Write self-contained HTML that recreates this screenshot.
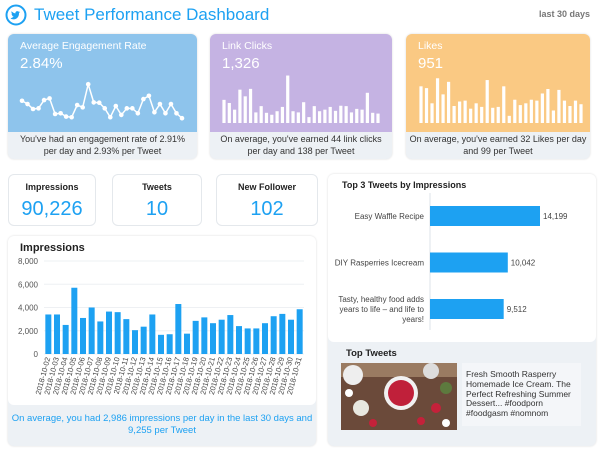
<!DOCTYPE html>
<html><head><meta charset="utf-8">
<style>
body{margin:0;width:598px;height:449px;overflow:hidden;background:#fff;font-family:"Liberation Sans",sans-serif;position:relative}
.abs{position:absolute}
.card{position:absolute;border-radius:6px;box-shadow:0 0 2px rgba(0,0,0,.15)}
.foot{position:absolute;background:#edf1f5;color:#333;font-size:9px;text-align:center;line-height:11.5px;border-radius:0 0 6px 6px}
.kpi{position:absolute;background:#fff;border:1px solid #e4e8ec;border-radius:6px;text-align:center}
.kpi .t{font-size:9px;font-weight:bold;color:#222;margin-top:7px}
.kpi .v{font-size:20px;color:#1da1f2;margin-top:6px}
.ct{color:#fff;font-size:10.5px}
</style></head><body>
<svg class="abs" style="left:5px;top:4px" width="22" height="22"><circle cx="11" cy="11" r="9.5" fill="none" stroke="#1da1f2" stroke-width="2"/><path d="M5.5 14.5c2.5 1.5 6 1 7.5-1.5 1-1.5 1-3 1-4l1.2-1-1.4.3.9-1.1-1.3.4c-1-1-2.8-.5-3 1.2v.6C8.7 9.2 7.5 8.3 6.6 7.3c-.5 1 0 2 .6 2.4l-.7-.1c0 1 .6 1.6 1.3 1.8h-.8c.3.8 1 1.2 1.7 1.2-.9.8-2 1.1-3.2 1.9z" fill="#1da1f2"/></svg>
<div class="abs" style="left:34px;top:5px;font-size:17px;color:#1da1f2">Tweet Performance Dashboard</div>
<div class="abs" style="right:8px;top:9px;font-size:9px;color:#777;font-weight:bold">last 30 days</div>

<div class="card" style="left:8px;top:34px;width:189px;height:125px;background:#edf1f5">
<div class="abs" style="left:0;top:0;width:189px;height:98px;background:#8ec4ec;border-radius:6px 6px 0 0"></div>
<div class="abs ct" style="left:12px;top:6px">Average Engagement Rate</div>
<div class="abs ct" style="left:12px;top:21px;font-size:15px">2.84%</div>
<div class="foot" style="left:0;top:100px;width:189px">You've had an engagement rate of 2.91%<br>per day and 2.93% per Tweet</div>
</div>
<svg id="spark" class="abs" style="left:0;top:0" width="598" height="160"></svg>

<div class="card" style="left:210px;top:34px;width:182px;height:125px;background:#edf1f5">
<div class="abs" style="left:0;top:0;width:182px;height:98px;background:#c5b3e3;border-radius:6px 6px 0 0"></div>
<div class="abs ct" style="left:12px;top:6px">Link Clicks</div>
<div class="abs ct" style="left:12px;top:21px;font-size:15px">1,326</div>
<div class="foot" style="left:0;top:100px;width:182px">On average, you've earned 44 link clicks<br>per day and 138 per Tweet</div>
</div>
<div class="card" style="left:406px;top:34px;width:184px;height:125px;background:#edf1f5">
<div class="abs" style="left:0;top:0;width:184px;height:98px;background:#fac983;border-radius:6px 6px 0 0"></div>
<div class="abs ct" style="left:12px;top:6px">Likes</div>
<div class="abs ct" style="left:12px;top:21px;font-size:15px">951</div>
<div class="foot" style="left:0;top:100px;width:184px;white-space:nowrap">On average, you've earned 32 Likes per day<br>and 99 per Tweet</div>
</div>
<svg id="bars" class="abs" style="left:0;top:0" width="598" height="160"></svg>

<div class="kpi" style="left:8px;top:174px;width:86px;height:50px"><div class="t">Impressions</div><div class="v">90,226</div></div>
<div class="kpi" style="left:112px;top:174px;width:88px;height:50px"><div class="t">Tweets</div><div class="v">10</div></div>
<div class="kpi" style="left:216px;top:174px;width:100px;height:50px"><div class="t">New Follower</div><div class="v">102</div></div>

<div class="card" style="left:8px;top:236px;width:308px;height:210px;background:#edf1f5">
<div class="abs" style="left:0;top:0;width:308px;height:169px;background:#fff;border-radius:6px"></div>
<div class="abs" style="left:12px;top:6px;font-size:11px;font-weight:bold;color:#222">Impressions</div>
<div class="abs" style="left:0;top:177px;width:308px;text-align:center;color:#1da1f2;font-size:9.5px;line-height:12px">On average, you had 2,986 impressions per day in the last 30 days and<br>9,255 per Tweet</div>
</div>
<svg id="imp" class="abs" style="left:0;top:0" width="330" height="449"></svg>

<div class="card" style="left:328px;top:174px;width:268px;height:272px;background:#edf1f5">
<div class="abs" style="left:0;top:0;width:268px;height:168px;background:#fff;border-radius:6px"></div>
<div class="abs" style="left:14px;top:6px;font-size:9px;font-weight:bold;color:#222">Top 3 Tweets by Impressions</div>
<div class="abs" style="left:18px;top:174px;font-size:9.5px;font-weight:bold;color:#222">Top Tweets</div>
<svg class="abs" style="left:13px;top:189px" width="116" height="67">
<rect width="116" height="67" fill="#6b4a3a"/><rect x="0" y="0" width="116" height="14" fill="#9a7b62"/>
<circle cx="12" cy="12" r="10" fill="#eee"/><circle cx="90" cy="8" r="8" fill="#ddd"/>
<circle cx="60" cy="30" r="17" fill="#f1f1f1"/><circle cx="60" cy="30" r="13" fill="#c0203a"/>
<circle cx="20" cy="45" r="8" fill="#e8e8e0"/><circle cx="32" cy="60" r="4" fill="#c4213a"/><circle cx="95" cy="45" r="5" fill="#c4213a"/><circle cx="80" cy="58" r="4" fill="#c4213a"/>
<circle cx="105" cy="25" r="6" fill="#5d7a3e"/><circle cx="8" cy="30" r="4" fill="#fff"/><circle cx="105" cy="60" r="4" fill="#fff"/>
</svg>
<div class="abs" style="left:134px;top:189px;width:119px;height:63px;background:#f4f6f9;font-size:8.5px;line-height:9.8px;color:#333;padding:7px 0 0 4px;box-sizing:border-box">Fresh Smooth Rasperry Homemade Ice Cream. The Perfect Refreshing Summer Dessert... #foodporn #foodgasm #nomnom</div>
</div>
<svg id="top3" class="abs" style="left:0;top:0" width="598" height="449"></svg>

<script>
const NS='http://www.w3.org/2000/svg';
function mk(p,tag,a){const e=document.createElementNS(NS,tag);for(const k in a)e.setAttribute(k,a[k]);p.appendChild(e);return e;}
const engagement=[3.12,3.02,2.87,2.89,3.14,3.19,2.72,2.74,2.64,2.62,2.99,2.92,3.62,3.07,3.06,2.89,2.62,2.96,2.69,2.89,2.89,2.74,3.17,3.27,2.77,3.02,2.74,3.02,2.74,2.59];
const linkClicks=[59,51,34,85,68,87,27,43,26,21,30,41,121,30,27,53,15,43,30,34,41,31,44,43,27,36,34,77,26,24];
const likes=[41,39,22,50,32,46,19,24,25,16,22,18,48,17,18,41,8,26,20,22,26,25,33,38,14,37,25,19,25,21];
const impDates=[];for(let d=2;d<=31;d++)impDates.push('2018-10-'+String(d).padStart(2,'0'));
const impressions=[3400,3400,2500,5700,3100,4000,2800,3650,3600,3000,2050,2350,3400,1650,1700,4300,1750,2850,3150,2650,2950,3350,2400,2200,2200,2650,3250,3450,2950,3850];
const impTicks=[0,2000,4000,6000,8000];
const topTweets=['Easy Waffle Recipe','DIY Rasperries Icecream','Tasty, healthy food adds|years to life – and life to|years!'];
const topValues=[14199,10042,9512];

const sp=document.getElementById('spark');
const sx=i=>22+i*(160/(engagement.length-1));
const sy=v=>124.5-(v-2.4)*(46.2/1.4);
let d='';engagement.forEach((v,i)=>{d+=(i?'L':'M')+sx(i)+' '+sy(v);});
const ln=mk(sp,'path',{d:d,fill:'none',stroke:'#fff','stroke-width':1.5});


engagement.forEach((v,i)=>{const c=mk(sp,'circle',{cx:sx(i),cy:sy(v),r:2.3,fill:'#fff'});

});

const bs=document.getElementById('bars');
function mini(arr,x0,x1,max,name){const step=(x1-x0)/(arr.length-1);arr.forEach((v,i)=>{const h=v/max*51;const r=mk(bs,'rect',{x:x0+i*step-1.6,y:123-h,width:3.2,height:h,fill:'#fff'});

});}
mini(linkClicks,224,378,130,'link-clicks-bar');
mini(likes,421,581,57,'likes-bar');

const im=document.getElementById('imp');
const iy=v=>354-v/8000*93;
const x0=44,x1=304,bw=(x1-x0)/impressions.length;
impTicks.forEach(t=>{const g=mk(im,'line',{x1:x0,x2:x1,y1:iy(t),y2:iy(t),stroke:'#eef0f3','stroke-width':1});


const tx=mk(im,'text',{x:38,y:iy(t)+3,'text-anchor':'end','font-size':8,fill:'#555','font-family':'Liberation Sans'});tx.textContent=t.toLocaleString('en-US');

});
impressions.forEach((v,i)=>{const cx=x0+bw*(i+.5);const r=mk(im,'rect',{x:cx-3,y:iy(v),width:6,height:354-iy(v),fill:'#1da1f2'});


const t=mk(im,'text',{x:cx+2,y:358,'text-anchor':'end','font-size':7.5,fill:'#444','font-family':'Liberation Sans',transform:`rotate(-75 ${cx+2} 358)`});t.textContent=impDates[i];

});

const tp=document.getElementById('top3');
const tx0=430,tsc=110/14199;
mk(tp,'line',{x1:tx0,x2:tx0,y1:193,y2:330,stroke:'#dde3ea'});
topValues.forEach((v,i)=>{const cy=216+i*46.5;const r=mk(tp,'rect',{x:tx0,y:cy-10,width:v*tsc,height:20,fill:'#1da1f2'});


const vl=mk(tp,'text',{x:tx0+v*tsc+3,y:cy+3,'font-size':8,fill:'#444','font-family':'Liberation Sans'});vl.textContent=v.toLocaleString('en-US');


const lines=topTweets[i].split('|');lines.forEach((s,j)=>{const t=mk(tp,'text',{x:424,y:cy+3+(j-(lines.length-1)/2)*10,'text-anchor':'end','font-size':8,fill:'#444','font-family':'Liberation Sans'});t.textContent=s;

});});
</script>
</body></html>
